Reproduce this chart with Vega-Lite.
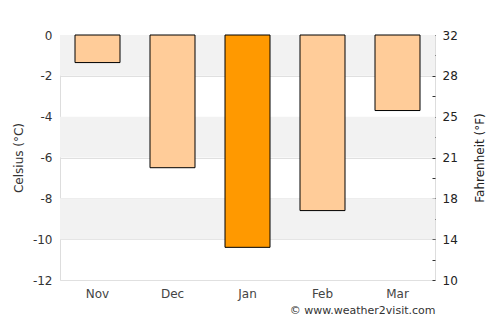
{
  "$schema": "https://vega.github.io/schema/vega-lite/v6.json",
  "width": 375,
  "height": 245,
  "autosize": "none",
  "padding": {"left": 60, "top": 35, "right": 65, "bottom": 45},
  "config": {"view": {"stroke": "#dddddd"}, "font": "DejaVu Sans"},
  "datasets": {
    "bands": [{"lo": 0, "hi": -2}, {"lo": -4, "hi": -6}, {"lo": -8, "hi": -10}],
    "temps": [
      {"month": "Nov", "c": -1.35, "f": 29.6},
      {"month": "Dec", "c": -6.5, "f": 20.3},
      {"month": "Jan", "c": -10.4, "f": 13.3},
      {"month": "Feb", "c": -8.6, "f": 16.5},
      {"month": "Mar", "c": -3.7, "f": 25.3}
    ]
  },
  "layer": [
    {
      "layer": [
        {
          "data": {"name": "bands"},
          "mark": {"type": "rect", "color": "#f2f2f2"},
          "encoding": {
            "y": {
              "field": "lo", "type": "quantitative",
              "scale": {"domain": [-12, 0], "nice": false},
              "axis": {
                "values": [-12, -10, -8, -6, -4, -2, 0],
                "labelExpr": "toString(datum.value)",
                "ticks": false, "domain": false,
                "grid": true, "gridColor": "#e0e0e0",
                "labelColor": "#333333", "labelFontSize": 12, "labelPadding": 8,
                "title": "Celsius (°C)", "titleFontWeight": "normal", "titleFontSize": 12,
                "titleColor": "#333333", "titlePadding": 7
              }
            },
            "y2": {"field": "hi"}
          }
        },
        {
          "data": {"name": "temps"},
          "mark": {"type": "bar", "stroke": "black", "strokeWidth": 1},
          "encoding": {
            "x": {
              "field": "month", "type": "nominal", "sort": null,
              "scale": {"paddingInner": 0.4, "paddingOuter": 0.2},
              "axis": {
                "labelAngle": 0, "ticks": false, "domain": false,
                "labelColor": "#444444", "labelFontSize": 12, "labelPadding": 8,
                "title": "© www.weather2visit.com", "titleAnchor": "end",
                "titleFontWeight": "normal", "titleFontSize": 11, "titleColor": "#333333",
                "titlePadding": 5
              }
            },
            "y": {"field": "c", "type": "quantitative"},
            "fill": {"condition": {"test": "datum.month === 'Jan'", "value": "#ff9900"}, "value": "#ffcc99"}
          }
        }
      ]
    },
    {
      "data": {"name": "temps"},
      "mark": {"type": "point", "opacity": 0},
      "encoding": {
        "y": {
          "field": "f", "type": "quantitative",
          "scale": {"domain": [10.4, 32], "nice": false, "zero": false},
          "axis": {
            "orient": "right",
            "values": [10.4, 12.2, 14, 15.8, 17.6, 19.4, 21.2, 23, 24.8, 26.6, 28.4, 30.2, 32],
            "labelExpr": "indexof([10.4, 14, 17.6, 21.2, 24.8, 28.4, 32], datum.value) >= 0 ? format(datum.value, '.0f') : ''",
            "grid": false, "domain": false,
            "tickSize": -3, "tickColor": "#333333",
            "labelColor": "#222222", "labelFontSize": 12, "labelPadding": 10,
            "title": "Fahrenheit (°F)", "titleAngle": 270, "titleFontWeight": "normal",
            "titleFontSize": 12, "titleColor": "#222222", "titlePadding": 29
          }
        }
      }
    }
  ],
  "resolve": {"scale": {"y": "independent"}}
}
